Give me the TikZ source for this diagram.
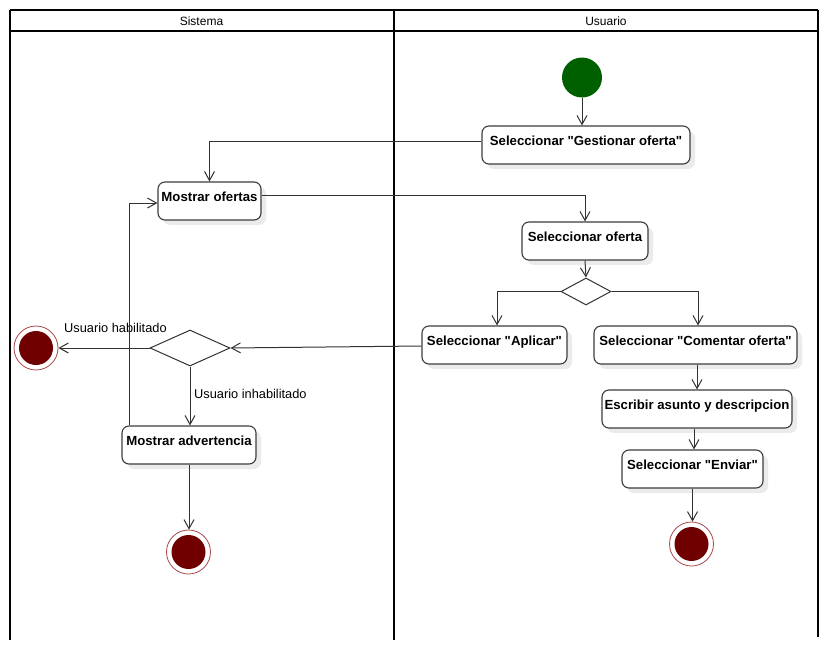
\documentclass[tikz,border=0pt]{standalone}
\usepackage{fontspec}
\setmainfont{Liberation Sans}
\newfontfamily\plainsans{Liberation Sans}
\usetikzlibrary{arrows.meta,shapes.geometric,shadows,calc}
\definecolor{startgreen}{RGB}{0,96,0}
\definecolor{endred}{RGB}{112,0,0}
\definecolor{ringred}{RGB}{170,70,70}
\definecolor{boxline}{RGB}{60,60,60}
\definecolor{conline}{RGB}{50,50,50}
\tikzset{
  act/.style={draw=boxline, line width=1.1pt, fill=white, rounded corners=7pt,
    minimum height=38pt, inner sep=0pt, text height=6pt, text depth=6pt,
    font=\plainsans\bfseries\fontsize{13.2}{15}\selectfont,
    drop shadow={shadow xshift=5pt, shadow yshift=-5pt, fill=black!8, opacity=1}},
  decis/.style={diamond, draw=conline, line width=1pt, fill=white, inner sep=0pt},
  startnode/.style={circle, fill=startgreen, minimum size=40pt, inner sep=0pt},
  endnode/.style={circle, draw=ringred, line width=0.8pt, fill=white, minimum size=44pt, inner sep=0pt,
    path picture={\fill[endred] (path picture bounding box.center) circle (17pt);}},
  conn/.style={draw=conline, line width=1pt, -{Straight Barb[length=9pt,width=10pt]}},
  lane/.style={draw=black, line width=2pt},
  hdr/.style={font=\plainsans\fontsize{12}{14}\selectfont, inner sep=0pt},
  lbl/.style={font=\plainsans\fontsize{12.8}{15}\selectfont, inner sep=0pt, anchor=west}
}
\begin{document}
\begin{tikzpicture}[x=1pt,y=-1pt]
\useasboundingbox (0,0) rectangle (828,651);
% swimlanes
\draw[lane] (10,10) -- (818,10);
\draw[draw=black, line width=1.5pt] (10,31) -- (818,31);
\draw[lane] (10,10) -- (10,640);
\draw[lane] (393.5,10) -- (393.5,640);
\draw[draw=black, line width=1.5pt] (818,10) -- (818,637);
\node[hdr] (hs) at (201.5,21) {Sistema};
\node[hdr] (hu) at (606,21) {Usuario};
% nodes
\node[startnode] (start) at (582,77.5) {};
\node[act, minimum width=208pt] (gest) at (586,145) {Seleccionar "Gestionar oferta"};
\node[act, minimum width=103pt] (most) at (209.5,201) {Mostrar ofertas};
\node[act, minimum width=126pt] (selof) at (585,241) {Seleccionar oferta};
\node[decis, minimum width=50pt, minimum height=27pt] (d1) at (586,291.5) {};
\node[act, minimum width=145pt] (aplic) at (494.5,345) {Seleccionar "Aplicar"};
\node[act, minimum width=203pt] (coment) at (695.5,345) {Seleccionar "Comentar oferta"};
\node[decis, minimum width=80pt, minimum height=36pt] (d2) at (190,348) {};
\node[endnode] (endL) at (36,348) {};
\node[lbl] (lhab) at (64,328) {Usuario habilitado};
\node[lbl] (linh) at (194,394) {Usuario inhabilitado};
\node[act, minimum width=134pt] (adv) at (189,445) {Mostrar advertencia};
\node[endnode] (endB) at (188.5,552) {};
\node[act, minimum width=190pt] (escr) at (697,409) {Escribir asunto y descripcion};
\node[act, minimum width=141pt] (env) at (692.5,469) {Seleccionar "Enviar"};
\node[endnode] (endR) at (691.5,544) {};
% connectors
\draw[conn] (start.south) -- (gest.north -| start.south);
\draw[conn] ([yshift=4pt]gest.west) -| (most.north);
\draw[conn] ([yshift=6pt]most.east) -| (selof.north);
\draw[conn] (selof.south) -- (d1.north);
\draw[conn] (d1.west) -| ([xshift=2.5pt]aplic.north);
\draw[conn] (d1.east) -| ([xshift=2.5pt]coment.north);
\draw[conn] ([yshift=-1pt]aplic.west) -- (d2.east);
\draw[conn] (d2.west) -- (endL.east);
\draw[conn] (d2.south) -- (adv.north -| d2.south);
\draw[conn] ([xshift=-60pt]adv.north) |- ([yshift=-2pt]most.west);
\draw[conn] (adv.south) -- (adv.south |- endB.north);
\draw[conn] (escr.north |- coment.south) -- (escr.north);
\draw[conn] ([xshift=-3pt]escr.south) -- ([xshift=1.5pt]env.north);
\draw[conn] (env.south) -- (env.south |- endR.north);
\end{tikzpicture}
\end{document}
